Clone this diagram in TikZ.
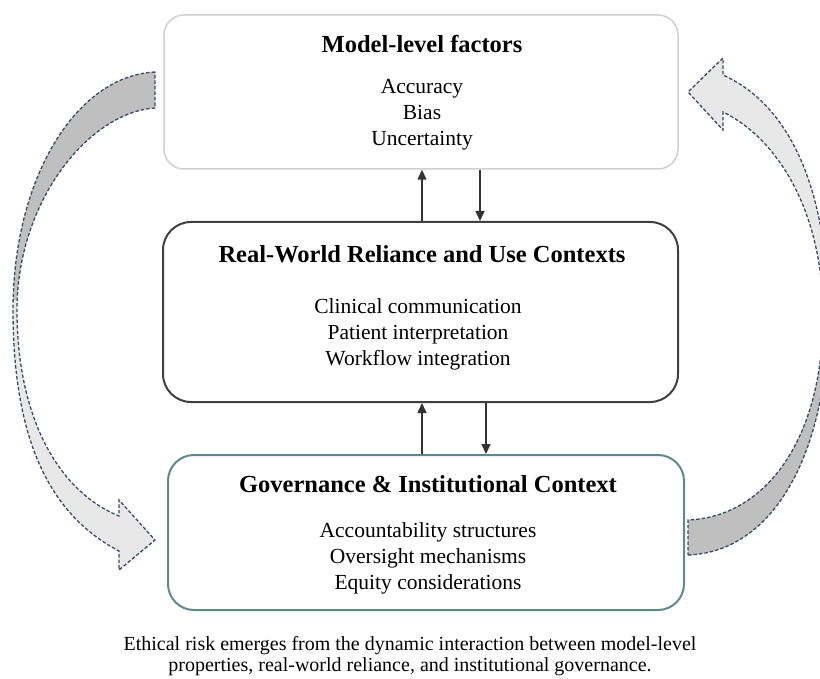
\documentclass[tikz,border=0pt]{standalone}
\usepackage{fontspec}
\setmainfont{Liberation Serif}
\usetikzlibrary{arrows.meta}
\definecolor{topborder}{HTML}{D0D0D0}
\definecolor{midborder}{HTML}{404040}
\definecolor{botborder}{HTML}{5E8A8C}
\definecolor{darkfill}{HTML}{BFBFBF}
\definecolor{lightfill}{HTML}{E8E8E8}
\definecolor{dashcol}{HTML}{3B4A63}
\begin{document}
\begin{tikzpicture}[x=1pt,y=-1pt,
 box/.style={draw, fill=white, rectangle, inner sep=0pt},
 ttl/.style={font=\fontsize{24.5}{28}\selectfont\bfseries, inner sep=0pt, anchor=base},
 itm/.style={font=\fontsize{21.5}{26}\selectfont, inner sep=0pt, anchor=base},
 captxt/.style={font=\fontsize{20}{22}\selectfont, inner sep=0pt, anchor=base},
 link/.style={draw=black!80, line width=1.5pt, -{Triangle[length=10pt,width=9pt]}},
 crescent/.style={draw=dashcol, line width=1.3pt, dash pattern=on 3.5pt off 2pt}
]
\clip (0,0) rectangle (820,679);
\fill[white] (0,0) rectangle (820,679);

% left curved arrow
\def\leftcres{(155,72) .. controls (75,76) and (13,180) .. (13,310) .. controls (13,440) and (50,515) .. (119,551) -- (119,570) -- (155,540) -- (119,500) -- (119,516) .. controls (60,492) and (17,420) .. (17,310) .. controls (17,200) and (90,112) .. (155,108) -- cycle}
\begin{scope}
\clip \leftcres;
\fill[lightfill] (0,0) rectangle (200,679);
\fill[darkfill] (0,0) rectangle (200,300);
\end{scope}
\draw[crescent] \leftcres;

% right curved arrow
\def\rightcres{(688,555) .. controls (775,552) and (828,450) .. (828,315) .. controls (828,190) and (790,105) .. (723,75) -- (723,58) -- (688,92) -- (723,130) -- (723,112) .. controls (780,140) and (823,215) .. (823,315) .. controls (823,440) and (765,517) .. (688,520) -- cycle}
\begin{scope}
\clip \rightcres;
\fill[lightfill] (660,0) rectangle (840,679);
\fill[darkfill] (660,315) rectangle (840,679);
\end{scope}
\draw[crescent] \rightcres;

% boxes
\node[box, draw=topborder, line width=1.5pt, rounded corners=20pt, minimum width=514pt, minimum height=154pt] (top) at (421,92) {};
\node[box, draw=midborder, line width=2pt, rounded corners=28pt, minimum width=515pt, minimum height=180pt] (mid) at (420.5,312) {};
\node[box, draw=botborder, line width=2pt, rounded corners=26pt, minimum width=516pt, minimum height=155pt] (bot) at (426,532.5) {};

% texts
\node[ttl] (t1) at (422,53) {Model-level factors};
\node[itm] (t1a) at (422,94) {Accuracy};
\node[itm] (t1b) at (422,120) {Bias};
\node[itm] (t1c) at (422,146) {Uncertainty};

\node[ttl] (t2) at (422,263) {Real-World Reliance and Use Contexts};
\node[itm] (t2a) at (418,314) {Clinical communication};
\node[itm] (t2b) at (418,340) {Patient interpretation};
\node[itm] (t2c) at (418,366) {Workflow integration};

\node[ttl] (t3) at (428,492) {Governance \& Institutional Context};
\node[itm] (t3a) at (428,537) {Accountability structures};
\node[itm] (t3b) at (428,563) {Oversight mechanisms};
\node[itm] (t3c) at (428,589) {Equity considerations};

\node[captxt] (cap1) at (410,650) {Ethical risk emerges from the dynamic interaction between model-level};
\node[captxt] (cap2) at (410,671) {properties, real-world reliance, and institutional governance.};

% connectors
\coordinate (xa) at (422,0);
\coordinate (xb) at (480,0);
\coordinate (xc) at (486,0);
\draw[link] (mid.north -| xa) -- (top.south -| xa);
\draw[link] (top.south -| xb) -- (mid.north -| xb);
\draw[link] (bot.north -| xa) -- (mid.south -| xa);
\draw[link] (mid.south -| xc) -- (bot.north -| xc);
\end{tikzpicture}
\end{document}
